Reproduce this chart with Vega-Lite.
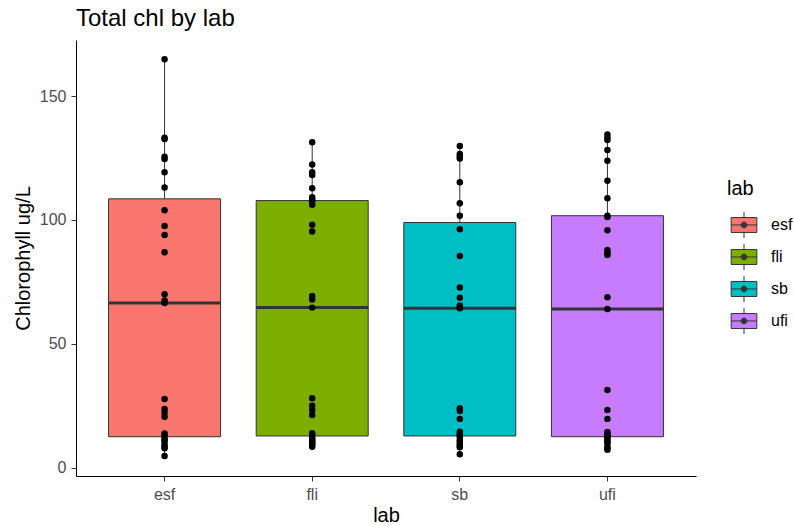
{
  "$schema": "https://vega.github.io/schema/vega-lite/v6.json",
  "width": 620,
  "height": 436,
  "autosize": {"type": "none"},
  "padding": {"left": 76, "top": 40, "right": 98, "bottom": 49},
  "background": "white",
  "config": {"font": "Liberation Sans", "view": {"stroke": null}},
  "title": {"text": "Total chl by lab", "anchor": "start", "frame": "group", "fontSize": 24, "fontWeight": "normal", "color": "#000000", "baseline": "bottom", "offset": 9, "dy": 24},
  "data": {"values": [
    {"lab": "esf", "chl": 4.7}, {"lab": "esf", "chl": 7.8}, {"lab": "esf", "chl": 8.5}, {"lab": "esf", "chl": 9.2}, {"lab": "esf", "chl": 10.5}, {"lab": "esf", "chl": 11.2}, {"lab": "esf", "chl": 11.8}, {"lab": "esf", "chl": 13.2}, {"lab": "esf", "chl": 13.8}, {"lab": "esf", "chl": 20.6}, {"lab": "esf", "chl": 22.2}, {"lab": "esf", "chl": 23.7}, {"lab": "esf", "chl": 27.7}, {"lab": "esf", "chl": 66.5}, {"lab": "esf", "chl": 67.5}, {"lab": "esf", "chl": 70.0}, {"lab": "esf", "chl": 86.9}, {"lab": "esf", "chl": 93.9}, {"lab": "esf", "chl": 97.5}, {"lab": "esf", "chl": 103.9}, {"lab": "esf", "chl": 113.1}, {"lab": "esf", "chl": 119.2}, {"lab": "esf", "chl": 124.6}, {"lab": "esf", "chl": 125.5}, {"lab": "esf", "chl": 132.6}, {"lab": "esf", "chl": 133.2}, {"lab": "esf", "chl": 164.8},
    {"lab": "fli", "chl": 8.5}, {"lab": "fli", "chl": 9.2}, {"lab": "fli", "chl": 9.8}, {"lab": "fli", "chl": 10.4}, {"lab": "fli", "chl": 11.0}, {"lab": "fli", "chl": 11.6}, {"lab": "fli", "chl": 12.3}, {"lab": "fli", "chl": 13.3}, {"lab": "fli", "chl": 13.9}, {"lab": "fli", "chl": 21.3}, {"lab": "fli", "chl": 23.3}, {"lab": "fli", "chl": 25.0}, {"lab": "fli", "chl": 28.0}, {"lab": "fli", "chl": 64.6}, {"lab": "fli", "chl": 67.9}, {"lab": "fli", "chl": 69.3}, {"lab": "fli", "chl": 95.3}, {"lab": "fli", "chl": 98.0}, {"lab": "fli", "chl": 106.1}, {"lab": "fli", "chl": 107.4}, {"lab": "fli", "chl": 108.2}, {"lab": "fli", "chl": 109.1}, {"lab": "fli", "chl": 112.8}, {"lab": "fli", "chl": 118.1}, {"lab": "fli", "chl": 119.2}, {"lab": "fli", "chl": 122.4}, {"lab": "fli", "chl": 131.3},
    {"lab": "sb", "chl": 5.4}, {"lab": "sb", "chl": 8.3}, {"lab": "sb", "chl": 8.9}, {"lab": "sb", "chl": 9.6}, {"lab": "sb", "chl": 10.5}, {"lab": "sb", "chl": 11.2}, {"lab": "sb", "chl": 12.4}, {"lab": "sb", "chl": 13.2}, {"lab": "sb", "chl": 13.9}, {"lab": "sb", "chl": 14.5}, {"lab": "sb", "chl": 19.7}, {"lab": "sb", "chl": 22.9}, {"lab": "sb", "chl": 24.0}, {"lab": "sb", "chl": 64.3}, {"lab": "sb", "chl": 64.8}, {"lab": "sb", "chl": 65.5}, {"lab": "sb", "chl": 68.6}, {"lab": "sb", "chl": 72.7}, {"lab": "sb", "chl": 85.4}, {"lab": "sb", "chl": 96.2}, {"lab": "sb", "chl": 101.7}, {"lab": "sb", "chl": 106.7}, {"lab": "sb", "chl": 115.2}, {"lab": "sb", "chl": 124.8}, {"lab": "sb", "chl": 125.6}, {"lab": "sb", "chl": 126.6}, {"lab": "sb", "chl": 129.8},
    {"lab": "ufi", "chl": 7.2}, {"lab": "ufi", "chl": 7.8}, {"lab": "ufi", "chl": 8.5}, {"lab": "ufi", "chl": 9.9}, {"lab": "ufi", "chl": 10.5}, {"lab": "ufi", "chl": 11.2}, {"lab": "ufi", "chl": 12.0}, {"lab": "ufi", "chl": 12.5}, {"lab": "ufi", "chl": 13.2}, {"lab": "ufi", "chl": 13.9}, {"lab": "ufi", "chl": 14.4}, {"lab": "ufi", "chl": 19.7}, {"lab": "ufi", "chl": 23.3}, {"lab": "ufi", "chl": 31.4}, {"lab": "ufi", "chl": 64.0}, {"lab": "ufi", "chl": 68.8}, {"lab": "ufi", "chl": 85.8}, {"lab": "ufi", "chl": 86.8}, {"lab": "ufi", "chl": 87.9}, {"lab": "ufi", "chl": 95.8}, {"lab": "ufi", "chl": 101.2}, {"lab": "ufi", "chl": 101.7}, {"lab": "ufi", "chl": 108.7}, {"lab": "ufi", "chl": 115.8}, {"lab": "ufi", "chl": 123.9}, {"lab": "ufi", "chl": 128.2}, {"lab": "ufi", "chl": 132.2}, {"lab": "ufi", "chl": 133.2}, {"lab": "ufi", "chl": 134.5}
  ]},
  "layer": [
    {
      "mark": {"type": "boxplot", "extent": 1.5, "size": 112, "outliers": false,
        "box": {"stroke": "#333333", "strokeWidth": 1, "opacity": 1},
        "median": {"color": "#333333", "thickness": 3, "opacity": 1},
        "rule": {"color": "#333333", "strokeWidth": 1, "opacity": 1}},
      "encoding": {
        "x": {"field": "lab", "type": "nominal",
          "scale": {"paddingInner": 0.244, "paddingOuter": 0.222},
          "axis": {"title": "lab", "titleFontSize": 20, "titleFontWeight": "normal", "titleColor": "#000000", "titleBaseline": "alphabetic", "titleY": 45.5,
            "labelFontSize": 16, "labelColor": "#4D4D4D", "labelAngle": 0, "labelBaseline": "alphabetic", "labelPadding": 18,
            "tickColor": "#333333", "tickSize": 5, "domainColor": "#000000", "domainWidth": 1, "grid": false}},
        "y": {"field": "chl", "type": "quantitative",
          "scale": {"domain": [-3.35, 172.6], "nice": false, "zero": false},
          "axis": {"title": "Chlorophyll ug/L", "values": [0, 50, 100, 150], "titleFontSize": 20, "titleFontWeight": "normal", "titleColor": "#000000",
            "titleX": -47, "titleY": 218, "titleBaseline": "alphabetic", "titleAngle": 270, "titleAlign": "center",
            "labelFontSize": 16, "labelColor": "#4D4D4D", "labelPadding": 5,
            "tickColor": "#333333", "tickSize": 5, "domainColor": "#000000", "domainWidth": 1, "grid": false}},
        "color": {"field": "lab", "type": "nominal",
          "scale": {"domain": ["esf", "fli", "sb", "ufi"], "range": ["#F8766D", "#7CAE00", "#00BFC4", "#C77CFF"]},
          "legend": {"title": "lab", "orient": "none", "legendX": 651, "legendY": 139,
            "titleFontSize": 20, "titleFontWeight": "normal", "titleColor": "#000000", "titlePadding": 9,
            "labelFontSize": 16, "labelColor": "#000000", "labelOffset": 10,
            "symbolType": "M-0.79,-0.46H0.79V0.46H-0.79Z M-0.79,0H0.79 M0,-0.46V-0.8 M0,0.46V0.8 M-0.18,0a0.18,0.18 0 1,0 0.36,0a0.18,0.18 0 1,0 -0.36,0 M-0.15,0a0.15,0.15 0 1,0 0.3,0a0.15,0.15 0 1,0 -0.3,0 M-0.12,0a0.12,0.12 0 1,0 0.24,0a0.12,0.12 0 1,0 -0.24,0 M-0.09,0a0.09,0.09 0 1,0 0.18,0a0.09,0.09 0 1,0 -0.18,0 M-0.06,0a0.06,0.06 0 1,0 0.12,0a0.06,0.06 0 1,0 -0.12,0 M-0.03,0a0.03,0.03 0 1,0 0.06,0a0.03,0.03 0 1,0 -0.06,0",
            "symbolSize": 1056, "symbolStrokeColor": "#333333", "symbolStrokeWidth": 1, "symbolOpacity": 1, "rowPadding": 0,
            "encode": {"symbols": {"update": {"stroke": {"value": "#333333"}, "strokeWidth": {"value": 1}, "opacity": {"value": 1}}}}}}
      }
    },
    {
      "mark": {"type": "point", "filled": true, "color": "#000000", "size": 42, "opacity": 1, "strokeWidth": 0},
      "encoding": {
        "x": {"field": "lab", "type": "nominal"},
        "y": {"field": "chl", "type": "quantitative"}
      }
    }
  ]
}
